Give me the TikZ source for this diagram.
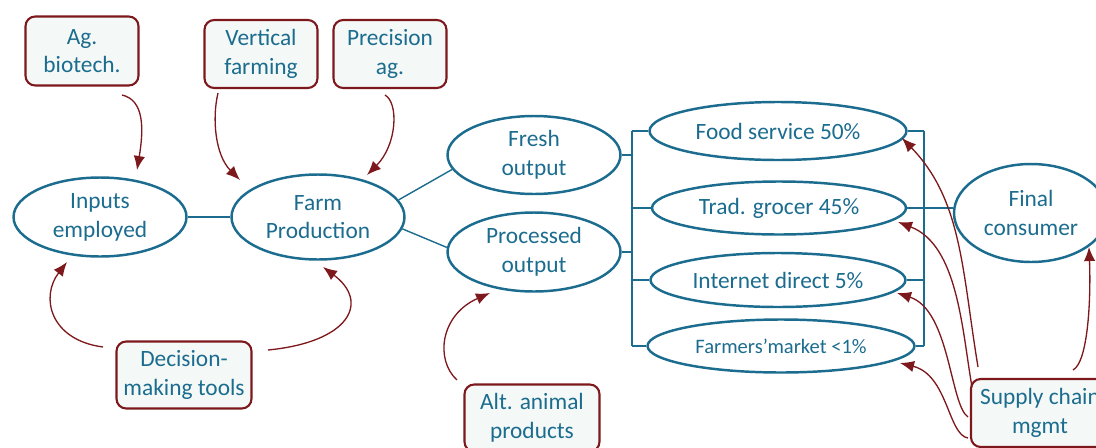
\documentclass[tikz,border=0pt]{standalone}
\usepackage{fontspec}
\setmainfont{Carlito}
\usetikzlibrary{calc,shapes.geometric,arrows.meta}
\definecolor{stageblue}{RGB}{27,108,142}
\definecolor{techred}{RGB}{125,24,28}
\definecolor{techfill}{RGB}{244,249,247}
\tikzset{
  stage/.style={ellipse, draw=stageblue, line width=1.4pt, text=stageblue, align=center,
    inner sep=0pt, font=\fontsize{13.3}{16.4}\selectfont},
  tech/.style={rectangle, rounded corners=5.5pt, draw=techred, fill=techfill, line width=1.2pt,
    text=stageblue, align=center, inner sep=0pt, font=\fontsize{13.3}{16.4}\selectfont},
  link/.style={draw=stageblue, line width=0.8pt},
  techarrow/.style={draw=techred, line width=0.75pt, -{Latex[length=8pt,width=6.5pt]}}
}

\begin{document}
\begin{tikzpicture}[x=0.02cm,y=-0.02cm]
		\useasboundingbox (0,0) rectangle (1096,447);
		
		% production chain
		\node[stage, minimum width=3.46cm, minimum height=1.58cm] (inputs) at (100,217) {Inputs\\employed};
		\node[stage, minimum width=3.46cm, minimum height=1.70cm] (farm) at (318,217) {Farm\\Production};
		\node[stage, minimum width=3.46cm, minimum height=1.56cm] (fresh) at (534,155) {Fresh\\output};
		\node[stage, minimum width=3.46cm, minimum height=1.58cm] (proc) at (534,252) {Processed\\output};
		
		% sales channels
		\node[stage, minimum width=5.14cm, minimum height=1.16cm] (food) at (778,131) {Food service 50\%};
		\node[stage, minimum width=5.08cm, minimum height=1.06cm] (trad) at (779,208) {Trad. grocer 45\%};
		\node[stage, minimum width=5.10cm, minimum height=1.08cm] (inet) at (778,280) {Internet direct 5\%};
		\node[stage, minimum width=5.34cm, minimum height=1.06cm, font=\fontsize{11.7}{14}\selectfont] (fmkt) at (781,346) {Farmers’market <1\%};
		\node[stage, minimum width=3.08cm, minimum height=1.96cm] (final) at (1031,213) {Final\\consumer};
		
		% technologies
		\node[tech, minimum width=2.26cm, minimum height=1.38cm] (agbio) at (82,51) {Ag.\\biotech.};
		\node[tech, minimum width=2.26cm, minimum height=1.36cm] (vert) at (261,54) {Vertical\\farming};
		\node[tech, minimum width=2.26cm, minimum height=1.36cm] (prec) at (390,54) {Precision\\ag.};
		\node[tech, minimum width=2.70cm, minimum height=1.34cm] (decis) at (184,375) {Decision-\\making tools};
		\node[tech, minimum width=2.70cm, minimum height=1.34cm] (alt) at (532,418) {Alt. animal\\products};
		\node[tech, minimum width=2.76cm, minimum height=1.36cm] (supply) at (1040,413) {Supply chain\\mgmt};
		
		% links
		\draw[link] (inputs.east) -- (farm.west);
		\draw[link] (farm.12) -- (fresh.190);
		\draw[link] (farm.-8) -- (proc.177);
		
		\coordinate (lbar) at (632,0);
		\coordinate (rbar) at (924,0);
		\draw[link] (fresh.east) -- (fresh.east -| lbar);
		\draw[link] (proc.east) -- (proc.east -| lbar);
		\draw[link] (food.west -| lbar) -- (fmkt.west -| lbar);
		\draw[link] (food.east -| rbar) -- (fmkt.east -| rbar);
		\foreach \ch in {food,trad,inet,fmkt} {
			\draw[link] (\ch.west) -- (\ch.west -| lbar);
			\draw[link] (\ch.east) -- (\ch.east -| rbar);
		}
		\draw[link] (trad.east -| rbar) -- (trad.east -| final.west);
		
		% technology arrows
		\draw[techarrow] ($(agbio)+(40,44)$) .. controls +(22,5) and +(7,-42) .. ($(inputs)+(37,-47)$);
		\draw[techarrow] ($(vert)+(-43,39)$) .. controls +(-6,25) and +(-25,-25) .. ($(farm)+(-78,-37)$);
		\draw[techarrow] ($(prec)+(-5,41)$) .. controls +(14,8) and +(30,-30) .. ($(farm)+(49,-42)$);
		\draw[techarrow] ($(decis)+(-81,-28)$) .. controls +(-53,-7) and +(-27,35) .. ($(inputs)+(-33,45)$);
		\draw[techarrow] ($(decis)+(84,-25)$) .. controls +(82,-8) and +(47,35) .. ($(farm)+(5,50)$);
		\draw[techarrow] ($(alt)+(-75,-38)$) .. controls +(-22,-20) and +(-50,22) .. ($(proc)+(-44,41)$);
		
		\draw[techarrow] ($(supply)+(-62,-46)$) .. controls +(-16,-97) and +(60,62) .. ($(food)+(124,7)$);
		\draw[techarrow] ($(supply)+(-68,-26)$) .. controls +(-10,-57) and +(60,23) .. ($(trad)+(119,14)$);
		\draw[techarrow] ($(supply)+(-72,4)$) .. controls +(-18,-12) and +(53,17) .. ($(inet)+(119,13)$);
		\draw[techarrow] ($(supply)+(-72,25)$) .. controls +(-20,-3) and +(48,12) .. ($(fmkt)+(119,17)$);
		\draw[techarrow] ($(supply)+(33,-43)$) .. controls +(15,-8) and +(2,53) .. ($(final)+(58,34)$);
		
	\end{tikzpicture}
\end{document}
